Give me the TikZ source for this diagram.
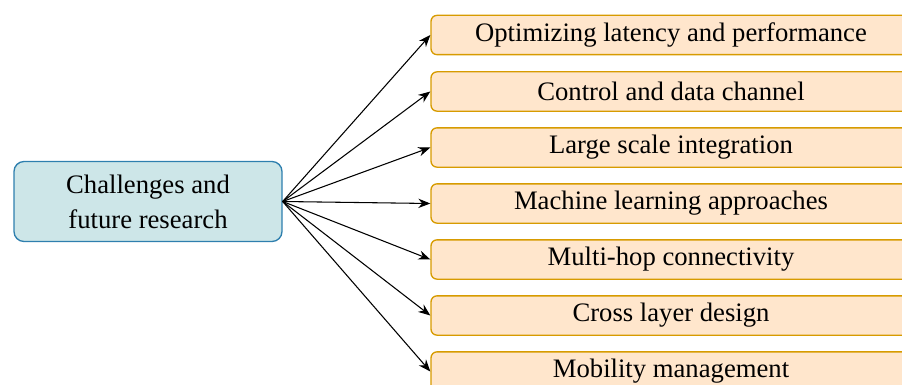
\documentclass[tikz,border=0pt]{standalone}
\usepackage{fontspec}
\setmainfont{Liberation Serif}
\usetikzlibrary{arrows.meta}

\definecolor{tealfill}{HTML}{CDE6E8}
\definecolor{tealline}{HTML}{2E7FAE}
\definecolor{orangefill}{HTML}{FFE6CC}
\definecolor{orangeline}{HTML}{D79B00}

\tikzset{
    mainbox/.style={draw=tealline, fill=tealfill, line width=1pt, rounded corners=7.5pt,
        minimum width=201pt, minimum height=60pt, inner sep=0pt, align=center,
        font=\fontsize{20}{26.25}\selectfont},
    topicbox/.style={draw=orangeline, fill=orangefill, line width=1pt, rounded corners=4.5pt,
        minimum width=360pt, minimum height=29.5pt, inner sep=0pt,
        font=\fontsize{20}{24}\selectfont},
    link/.style={-{Stealth[length=9pt,width=7pt]}, line width=0.8pt}
}

\begin{document}
\begin{tikzpicture}[x=0.75pt, y=-0.75pt]
                \useasboundingbox (0,0) rectangle (902,385);
                \clip (0,0) rectangle (902,385);
                \node[mainbox] (chal) at (148,201.5) {Challenges and\\future research};
                \node[topicbox] (lat) at (671,35) {Optimizing latency and performance};
                \node[topicbox] (ctrl) at (671,91.5) {Control and data channel};
                \node[topicbox] (large) at (671,147.5) {Large scale integration};
                \node[topicbox] (ml) at (671,203.5) {Machine learning approaches};
                \node[topicbox] (hop) at (671,259.5) {Multi-hop connectivity};
                \node[topicbox] (cross) at (671,315.5) {Cross layer design};
                \node[topicbox] (mob) at (671,371.5) {Mobility management};
                \draw[link] (chal.east) -- (lat.west);
                \draw[link] (chal.east) -- (ctrl.west);
                \draw[link] (chal.east) -- (large.west);
                \draw[link] (chal.east) -- (ml.west);
                \draw[link] (chal.east) -- (hop.west);
                \draw[link] (chal.east) -- (cross.west);
                \draw[link] (chal.east) -- (mob.west);
            \end{tikzpicture}
\end{document}
